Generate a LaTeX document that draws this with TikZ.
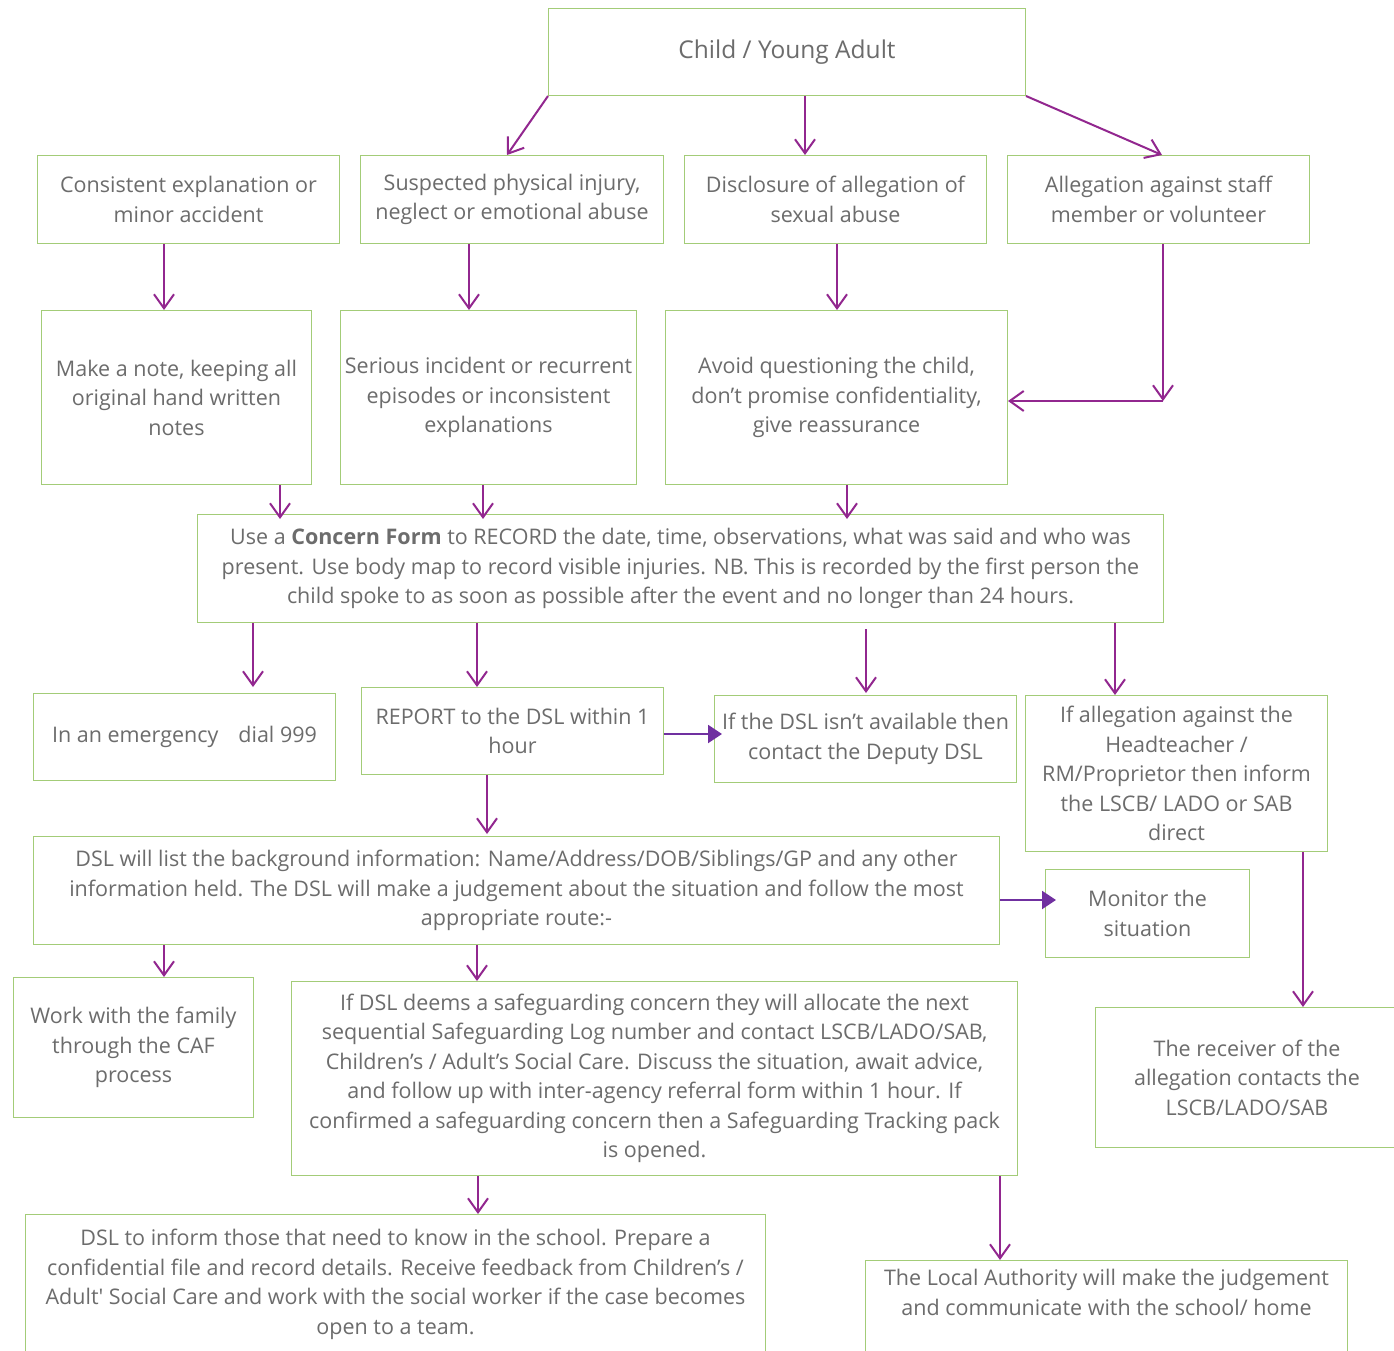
\documentclass[tikz,border=0pt]{standalone}
\usepackage{fontspec}
\setmainfont{Open Sans}
\usetikzlibrary{arrows.meta,positioning,calc}
\definecolor{boxgreen}{RGB}{163,204,120}
\definecolor{arrpurple}{RGB}{146,39,143}
\definecolor{fillpurple}{RGB}{112,48,160}
\definecolor{txtgrey}{RGB}{108,108,108}
\newcommand{\flowfont}{\fontsize{21.5}{29.5}\selectfont}
\newcommand{\headfont}{\fontsize{24.5}{30}\selectfont}

\begin{document}
\begin{tikzpicture}[x=1pt,y=-1pt,
    box/.style={draw=boxgreen,line width=1pt,text=txtgrey,align=center,anchor=north west,inner sep=2pt,font=\flowfont},
    arr/.style={draw=arrpurple,line width=2pt,-{Straight Barb[length=14pt,width=20pt,line width=2pt]}},
    farr/.style={draw=fillpurple,line width=2pt,-{Triangle[length=14pt,width=18pt]}}]
  \useasboundingbox[fill=white] (0,0) rectangle (1394,1351);

  \node[box,minimum width=477,minimum height=87,font=\headfont] (child) at (548,8) {Child / Young Adult};

  \node[box,minimum width=302,minimum height=88] (minor) at (37,155) {Consistent explanation or\\minor accident};
  \node[box,minimum width=303,minimum height=88] (injury) at (360,155) {Suspected physical injury,\\neglect or emotional abuse};
  \node[box,minimum width=302,minimum height=88] (sexual) at (684,155) {Disclosure of allegation of\\sexual abuse};
  \node[box,minimum width=302,minimum height=88] (staff) at (1007,155) {Allegation against staff\\member or volunteer};

  \node[box,minimum width=270,minimum height=174] (note) at (41,310) {Make a note, keeping all\\original hand written\\notes};
  \node[box,minimum width=296,minimum height=174] (serious) at (340,310) {Serious incident or recurrent\\episodes or inconsistent\\explanations};
  \node[box,minimum width=342,minimum height=174] (avoid) at (665,310) {Avoid questioning the child,\\don’t promise confidentiality,\\give reassurance};

  \node[box,minimum width=966,minimum height=108] (record) at (197,514) {Use a \textbf{Concern Form} to RECORD the date, time, observations, what was said and who was\\present. Use body map to record visible injuries. NB. This is recorded by the first person the\\child spoke to as soon as possible after the event and no longer than 24 hours.};

  \node[box,minimum width=302,minimum height=87] (emergency) at (33,693) {In an emergency\hspace{20pt}dial 999};
  \node[box,minimum width=302,minimum height=87] (report) at (361,687) {REPORT to the DSL within 1\\hour};
  \node[box,minimum width=302,minimum height=87] (deputy) at (714,695) {If the DSL isn’t available then\\contact the Deputy DSL};
  \node[box,minimum width=302,minimum height=156] (head) at (1025,695) {If allegation against the\\Headteacher /\\RM/Proprietor then inform\\the LSCB/ LADO or SAB\\direct};

  \node[box,minimum width=966,minimum height=108] (list) at (33,836) {DSL will list the background information: Name/Address/DOB/Siblings/GP and any other\\information held. The DSL will make a judgement about the situation and follow the most\\appropriate route:-};
  \node[box,minimum width=204,minimum height=88] (monitor) at (1045,869) {Monitor the\\situation};

  \node[box,minimum width=240,minimum height=140] (family) at (13,977) {Work with the family\\through the CAF\\process};
  \node[box,minimum width=726,minimum height=194] (deems) at (291,981) {If DSL deems a safeguarding concern they will allocate the next\\sequential Safeguarding Log number and contact LSCB/LADO/SAB,\\Children’s / Adult’s Social Care. Discuss the situation, await advice,\\and follow up with inter-agency referral form within 1 hour. If\\confirmed a safeguarding concern then a Safeguarding Tracking pack\\is opened.};
  \node[box,minimum width=303,minimum height=140] (receiver) at (1095,1007) {The receiver of the\\allegation contacts the\\LSCB/LADO/SAB};

  \node[box,minimum width=740,minimum height=140] (inform) at (25,1214) {DSL to inform those that need to know in the school. Prepare a\\confidential file and record details. Receive feedback from Children’s /\\Adult\textquotesingle{} Social Care and work with the social worker if the case becomes\\open to a team.};
  \node[box,minimum width=482,minimum height=102] (authority) at (865,1260) {The Local Authority will make the judgement\\and communicate with the school/ home\\\strut};

  \coordinate (turn) at (1163,401);

  \draw[arr] (child.south west) -- (507,0 |- injury.north);
  \draw[arr] (805,0 |- child.south) -- (805,0 |- sexual.north);
  \draw[arr] (child.south east) -- (1162,0 |- staff.north);

  \draw[arr] (164,0 |- minor.south) -- (164,0 |- note.north);
  \draw[arr] (469,0 |- injury.south) -- (469,0 |- serious.north);
  \draw[arr] (837,0 |- sexual.south) -- (837,0 |- avoid.north);
  \draw[arr] (1163,0 |- staff.south) -- (turn);
  \draw[arr] (turn) -- (avoid.east |- turn);

  \draw[arr,shorten >=-5pt] (280,0 |- note.south) -- (280,0 |- record.north);
  \draw[arr,shorten >=-5pt] (483,0 |- serious.south) -- (483,0 |- record.north);
  \draw[arr,shorten >=-5pt] (847,0 |- avoid.south) -- (847,0 |- record.north);

  \draw[arr,shorten >=6pt] (253,0 |- record.south) -- (253,0 |- emergency.north);
  \draw[arr] (477,0 |- record.south) -- (477,0 |- report.north);
  \draw[arr,shorten <=6pt,shorten >=2pt] (866,0 |- record.south) -- (866,0 |- deputy.north);
  \draw[arr] (1115,0 |- record.south) -- (1115,0 |- head.north);

  \draw[farr,shorten >=-8pt] (report.east |- 0,734) -- (deputy.west |- 0,734);
  \draw[arr,shorten >=2pt] (487,0 |- report.south) -- (487,0 |- list.north);
  \draw[farr,shorten >=-11pt] (list.east |- 0,900) -- (monitor.west |- 0,900);

  \draw[arr] (164,0 |- list.south) -- (164,0 |- family.north);
  \draw[arr] (477,0 |- list.south) -- (477,0 |- deems.north);
  \draw[arr] (1303,0 |- head.south) -- (1303,0 |- receiver.north);

  \draw[arr] (478,0 |- deems.south) -- (478,0 |- inform.north);
  \draw[arr] (1000,0 |- deems.south) -- (1000,0 |- authority.north);
\end{tikzpicture}
\end{document}
